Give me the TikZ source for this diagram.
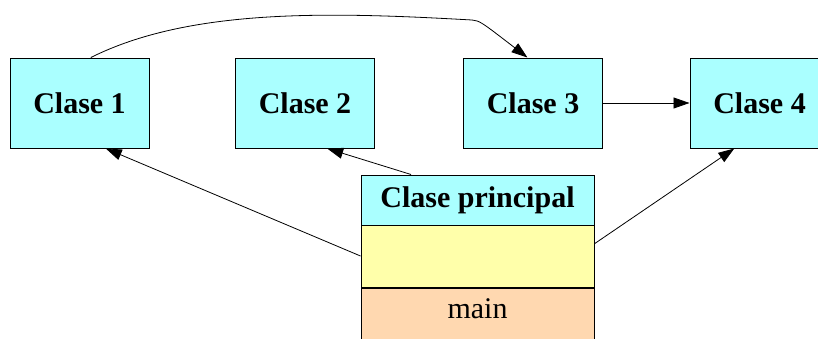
\documentclass[tikz,border=0pt]{standalone}
\usepackage{fontspec}
\setmainfont{Liberation Serif}
\usetikzlibrary{arrows.meta}

\definecolor{clcyan}{RGB}{170,255,255}
\definecolor{clyellow}{RGB}{255,255,170}
\definecolor{clpeach}{RGB}{255,216,176}

\tikzset{
	clase/.style={draw,line width=1pt,fill=clcyan,minimum width=139pt,minimum height=90pt,inner sep=0pt,font=\fontsize{30}{36}\selectfont\bfseries},
	parte/.style={draw,line width=1pt,minimum width=233pt,inner sep=0pt,font=\fontsize{30}{36}\selectfont},
	flecha/.style={-{Triangle[length=16pt,width=11pt]},line width=0.8pt}
}

\begin{document}
\begin{tikzpicture}[x=1pt,y=-1pt]
			\useasboundingbox (0,0) rectangle (818,338);
			
			\node[clase] (c1) at (79.5,103) {Clase 1};
			\node[clase] (c2) at (305,103) {Clase 2};
			\node[clase] (c3) at (533,103) {Clase 3};
			\node[clase] (c4) at (759.5,103) {Clase 4};
			
			% clase principal
			\node[parte,fill=clcyan,minimum height=50pt,font=\fontsize{30}{36}\selectfont\bfseries] (hdr) at (477.5,200) {Clase principal};
			\node[parte,fill=clyellow,minimum height=62pt] (yel) at (477.5,256) {};
			\node[parte,fill=clpeach,minimum height=56pt,text depth=14pt,anchor=north] (mth) at (yel.south) {main};
			
			\draw[flecha] (c1.76) .. controls (190,8) and (330,12) .. (472,20) .. controls (480,21) .. (c3.97);
			
			\draw[flecha] (c3.east) -- (c4.west);
			
			\draw[flecha] (yel.west) -- (c1.-60);
			
			\draw[flecha] (hdr.159) -- (c2.-64);
			
			\draw[flecha] (yel.6) -- (c4.-119);
			
		\end{tikzpicture}
\end{document}
